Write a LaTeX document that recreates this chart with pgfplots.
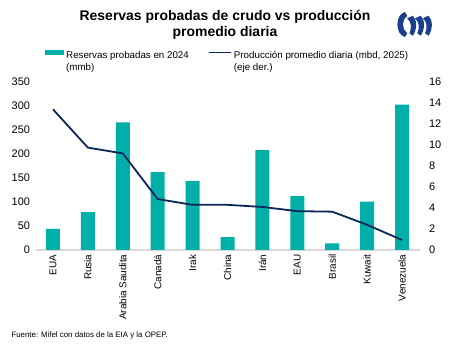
\documentclass[border=0pt]{standalone}
\usepackage{fontspec}
\setmainfont{Liberation Sans}
\usepackage{pgfplots}
\pgfplotsset{compat=1.18}
\definecolor{teal1}{HTML}{00B0A8}
\definecolor{navy1}{HTML}{0B2559}
\definecolor{axgray}{HTML}{D9D9D9}
\definecolor{logoblue}{HTML}{1B3F8F}
\begin{document}
\begin{tikzpicture}
\path[use as bounding box] (0bp,0bp) rectangle (450bp,349bp);
\node[font=\fontsize{14}{16.5}\selectfont\bfseries, align=center] at (225bp,324bp) {Reservas probadas de crudo vs producción\\promedio diaria};
% logo
\begin{scope}[shift={(396bp,312bp)}, x=1.12bp, y=1.25bp]
\fill[logoblue] (8,20) .. controls (-1,18) and (-1,2) .. (8,0) -- (10,3) .. controls (5,6) and (5,14) .. (10,17) -- cycle;
\fill[logoblue] (10,15) -- (15,17) .. controls (19,14) and (19,6) .. (15,1) -- (12,3) .. controls (14,7) and (14,12) .. cycle;
\fill[logoblue] (17,15) -- (22,17) .. controls (26,14) and (26,6) .. (22,1) -- (19,3) .. controls (21,7) and (21,12) .. cycle;
\fill[logoblue] (24,15) -- (29,17) .. controls (33,14) and (33,6) .. (29,1) -- (26,3) .. controls (28,7) and (28,12) .. cycle;
\end{scope}
\begin{axis}[at={(35.5bp,99bp)}, anchor=south west, width=384bp, height=168bp, scale only axis,
  xmin=-0.5, xmax=10.5, ymin=0, ymax=350,
  ytick={0,50,...,350}, xtick={0,...,10},
  xticklabels={EUA,Rusia,Arabia Saudita,Canadá,Irak,China,Irán,EAU,Brasil,Kuwait,Venezuela},
  axis x line*=bottom, axis y line*=left,
  y axis line style={draw=none}, x axis line style={draw=axgray, line width=1.2pt},
  major tick length=0pt,
  /pgf/number format/assume math mode=true,
  ticklabel style={font=\fontsize{11}{12}\selectfont},
  xticklabel style={rotate=90, anchor=east, font=\fontsize{10}{12}\selectfont, xshift=-1bp},
  yticklabel style={xshift=-2bp},
  ybar, bar width=14bp, clip=false]
\addplot[fill=teal1, draw=none] coordinates {(0,44) (1,79) (2,266) (3,162) (4,144) (5,27) (6,208) (7,112) (8,14) (9,101) (10,303)};
\end{axis}
\begin{axis}[at={(35.5bp,99bp)}, anchor=south west, width=384bp, height=168bp, scale only axis,
  xmin=-0.5, xmax=10.5, ymin=0, ymax=16, ytick={0,2,...,16},
  axis x line=none, axis y line*=right, y axis line style={draw=none},
  major tick length=0pt,
  /pgf/number format/assume math mode=true,
  ticklabel style={font=\fontsize{11}{12}\selectfont},
  yticklabel style={xshift=6bp},
  legend style={at={(0.017,1.205)}, anchor=north west, draw=none, fill=none,
    font=\fontsize{9.8}{11.5}\selectfont, legend columns=2,
    /tikz/every even column/.append style={column sep=0pt},
    row sep=0pt},
  legend cell align=left, clip=false]
\addlegendimage{area legend, fill=teal1, draw=none, legend image code/.code={\fill[teal1] (0bp,1bp) rectangle (19bp,6bp);}}
\addlegendentry{\parbox[t]{140bp}{Reservas probadas en 2024\\(mmb)}}
\addplot[navy1, line width=1.8pt, legend image code/.code={\draw[navy1, line width=1.8pt] (0bp,3.5bp) -- (22bp,3.5bp);}] coordinates {(0,13.4) (1,9.75) (2,9.2) (3,4.85) (4,4.3) (5,4.3) (6,4.1) (7,3.7) (8,3.65) (9,2.4) (10,0.95)};
\addlegendentry{\parbox[t]{195bp}{Producción promedio diaria (mbd, 2025)\\(eje der.)}}
\end{axis}
\node[anchor=west, font=\fontsize{7.9}{9}\selectfont] at (8bp,14bp) {Fuente: Mifel con datos de la EIA y la OPEP.};
\end{tikzpicture}
\end{document}
